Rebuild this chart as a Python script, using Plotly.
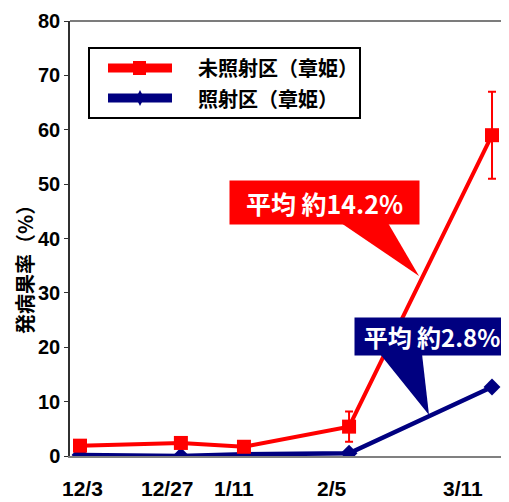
import plotly.graph_objects as go

# ---------------- data ----------------
dates = ["2008-12-03", "2008-12-27", "2009-01-11", "2009-02-05", "2009-03-11"]
date_labels = ["12/3", "12/27", "1/11", "2/5", "3/11"]
unirr_name = "未照射区（章姫）"
unirr_vals = [1.9, 2.4, 1.7, 5.4, 59.0]
unirr_err = [0, 0, 0, 2.8, 8.0]
irr_name = "照射区（章姫）"
irr_vals = [0.2, 0.0, 0.3, 0.5, 12.7]
y_ticks = [0, 10, 20, 30, 40, 50, 60, 70, 80]
y_title = "発病果率（%）"
unirr_note = "平均 約14.2%"
irr_note = "平均 約2.8%"

# ---------------- layout helpers (reference pixel -> paper) ----------------
OFF = 8                      # page body margin of the rendered html
RW, RH = 509, 502            # reference picture size
W, H = RW - OFF, RH - OFF
PL, PR, PT, PB = 70, 509, 21, 456   # plot area in reference pixels


def px(x):
    return (x - PL) / (PR - PL)


def py(y):
    return (PB - y) / (PB - PT)


RED = "#FF0000"
NAVY = "#000080"
CJK = "Noto Sans CJK JP"
NUM = "Liberation Sans Narrow, Liberation Sans, Arial, sans-serif"

fig = go.Figure()

fig.add_trace(go.Scatter(
    x=dates, y=irr_vals, name=irr_name, mode="lines+markers",
    line=dict(color=NAVY, width=4.5),
    marker=dict(symbol="diamond", size=13, color=NAVY),
    showlegend=False,
))
fig.add_trace(go.Scatter(
    x=dates, y=unirr_vals, name=unirr_name, mode="lines+markers",
    line=dict(color=RED, width=4),
    marker=dict(symbol="square", size=14, color=RED),
    error_y=dict(type="data", array=unirr_err, visible=True, color=RED,
                 thickness=2, width=4),
    showlegend=False,
))

shapes = []
annotations = []

# top frame line
shapes.append(dict(type="line", xref="paper", yref="paper",
                   x0=0, x1=1, y0=1, y1=1, line=dict(color="#505050", width=1.5)))

# x tick labels (offset as in reference)
label_shift = [3, -13, -10, -17, -29]
for d, lab, sh in zip(dates, date_labels, label_shift):
    annotations.append(dict(x=d, xref="x", y=py(489), yref="paper",
                            text=lab, showarrow=False, xshift=sh,
                            xanchor="center", yanchor="middle",
                            font=dict(family=NUM, size=21, color="black", weight="bold")))

# y axis title
annotations.append(dict(x=px(24), y=py(265), xref="paper", yref="paper",
                        text=y_title, textangle=-90, showarrow=False,
                        xanchor="center", yanchor="middle",
                        font=dict(family=CJK, size=20, color="black", weight="bold")))

# legend (custom)
shapes.append(dict(type="rect", xref="paper", yref="paper",
                   x0=px(89), x1=px(360), y0=py(118), y1=py(48),
                   line=dict(color="black", width=2), fillcolor="white", layer="above"))
for yy, col in [(68, RED), (98, NAVY)]:
    shapes.append(dict(type="line", xref="paper", yref="paper",
                       x0=px(108), x1=px(172), y0=py(yy), y1=py(yy),
                       line=dict(color=col, width=9)))
shapes.append(dict(type="rect", xref="paper", yref="paper",
                   x0=px(133), x1=px(146), y0=py(75), y1=py(61),
                   line=dict(width=0), fillcolor=RED))
shapes.append(dict(type="path", xref="paper", yref="paper",
                   path=f"M {px(140)},{py(90)} L {px(144)},{py(98)} L {px(140)},{py(106)} L {px(136)},{py(98)} Z",
                   line=dict(width=0), fillcolor=NAVY))
for yy, name in [(68, unirr_name), (98, irr_name)]:
    annotations.append(dict(x=px(196), y=py(yy), xref="paper", yref="paper",
                            text=name, showarrow=False, xanchor="left", yanchor="middle",
                            font=dict(family=CJK, size=20, color="black", weight="bold")))

# callouts
shapes.append(dict(type="path", xref="paper", yref="paper",
                   path=f"M {px(341)},{py(223)} L {px(388)},{py(223)} L {px(419)},{py(276)} Z",
                   line=dict(width=0), fillcolor=RED))
annotations.append(dict(x=px(324.5), y=py(202.5), xref="paper", yref="paper",
                        text=unirr_note, showarrow=False, xanchor="center", yanchor="middle",
                        width=189, height=43, bgcolor=RED, borderpad=0,
                        font=dict(family=CJK, size=25, color="white", weight="bold")))
shapes.append(dict(type="path", xref="paper", yref="paper",
                   path=f"M {px(380)},{py(354)} L {px(422)},{py(354)} L {px(429)},{py(415)} Z",
                   line=dict(width=0), fillcolor=NAVY))
annotations.append(dict(x=px(432), y=py(336.5), xref="paper", yref="paper",
                        text=irr_note, showarrow=False, xanchor="center", yanchor="middle",
                        width=154, height=37, bgcolor=NAVY, borderpad=0,
                        font=dict(family=CJK, size=24, color="white", weight="bold")))

fig.update_layout(
    width=W, height=H,
    margin=dict(l=PL - OFF, r=W - (PR - OFF), t=PT - OFF, b=H - (PB - OFF), pad=0),
    plot_bgcolor="white", paper_bgcolor="white",
    shapes=shapes, annotations=annotations,
    showlegend=False,
    xaxis=dict(type="date", range=["2008-11-30 15:00", "2009-03-15 01:00"],
               showticklabels=False, showgrid=False, zeroline=False,
               showline=True, linecolor="#808080", linewidth=1.5, ticks=""),
    yaxis=dict(range=[0, 80], tickvals=y_ticks, showgrid=False, zeroline=False,
               showline=True, linecolor="#303030", linewidth=1.5,
               ticks="outside", ticklen=4, tickcolor="#303030",
               tickfont=dict(family=NUM, size=20, color="black", weight="bold")),
)

fig.write_html("out.html")
